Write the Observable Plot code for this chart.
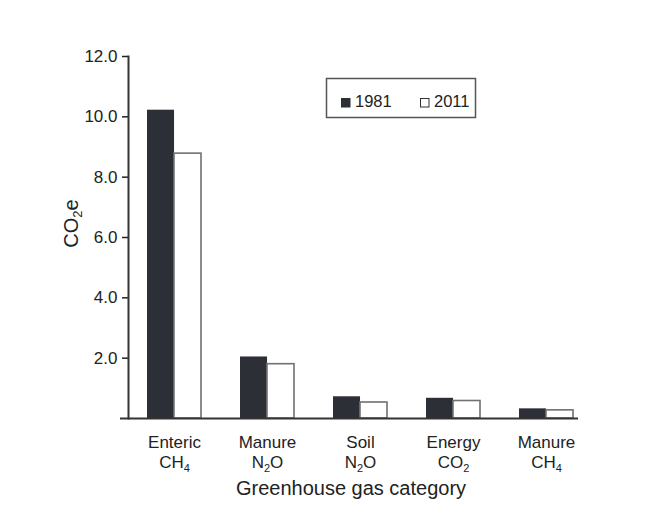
<!DOCTYPE html>
<html><head><meta charset="utf-8">
<script src="https://cdn.jsdelivr.net/npm/d3@7"></script>
<script src="https://cdn.jsdelivr.net/npm/@observablehq/plot@0.6"></script>
<style>
body{margin:0;background:#fff;}
#wrap{position:relative;width:659px;height:519px;font-family:"Liberation Sans",Arial,sans-serif;}
#legend{position:absolute;left:0;top:0;}
</style></head><body>
<div id="wrap"><div id="chart"></div>
<svg id="legend" width="659" height="140"></svg>
</div>
<script>
const categories = ["Enteric\nCH4", "Manure\nN2O", "Soil\nN2O", "Energy\nCO2", "Manure\nCH4"];
const years = ["1981", "2011"];
const values1981 = [10.22, 2.04, 0.72, 0.67, 0.32];
const values2011 = [8.78, 1.80, 0.53, 0.58, 0.27];
const yTicks = [2, 4, 6, 8, 10, 12];
const xTitle = "Greenhouse gas category";
const yTitle = "CO2e";

const dark = "#2c2f36";
const ink = "#222";
const font = '"Liberation Sans", Arial, sans-serif';
const rows = categories.map((c, i) => ({category: c, v1981: values1981[i], v2011: values2011[i]}));

const pad = 0.42;
const xRange = [147, 573];
const bw = (xRange[1] - xRange[0]) / (categories.length - pad) * (1 - pad);

const chart = Plot.plot({
  width: 659, height: 519,
  marginLeft: 128, marginRight: 81, marginTop: 56, marginBottom: 101,
  style: {fontFamily: font, fontSize: "17px", color: ink, background: "#fff"},
  x: {domain: categories, range: xRange, paddingInner: pad, paddingOuter: 0, label: null},
  y: {domain: [0, 12], label: null},
  marks: [
    Plot.barY(rows, {x: "category", y: "v1981", fill: dark, insetRight: bw / 2}),
    Plot.barY(rows, {x: "category", y: "v2011", fill: "#fff", stroke: "#707070", strokeWidth: 1.6, insetLeft: bw / 2}),
    Plot.axisY(yTicks, {tickFormat: d3.format(".1f"), tickSize: 6, tickPadding: 5, stroke: ink, strokeWidth: 1.5, fontSize: 17, fill: ink, label: null}),
    Plot.axisX({tickSize: 0, tickPadding: 15.5, fontSize: 17, fill: ink, lineHeight: 1.18, label: null}),
    Plot.frame({anchor: "left", stroke: "#333", strokeWidth: 2}),
    Plot.ruleY([0], {stroke: "#333", strokeWidth: 2.2, insetLeft: -8}),
    Plot.text([xTitle], {frameAnchor: "bottom", text: d => d, textAnchor: "middle", lineAnchor: "middle", dy: 69.6, dx: -2.5, fontSize: 20, fill: ink}),
    Plot.text([yTitle], {frameAnchor: "left", text: d => d, textAnchor: "middle", lineAnchor: "middle", rotate: -90, dx: -57, dy: -14, fontSize: 20, fill: ink})
  ]
});
document.getElementById("chart").appendChild(chart);

// chemical-formula subscripts: a digit following a letter is drawn lowered and smaller
function subscriptify(el, size) {
  const parts = el.textContent.split(/(?<=[A-Za-z])(\d)/);
  if (parts.length < 2) return;
  el.textContent = "";
  parts.forEach((p, i) => {
    if (!p) return;
    const t = document.createElementNS("http://www.w3.org/2000/svg", "tspan");
    t.textContent = p;
    if (i % 2 === 1) {
      t.setAttribute("font-size", size);
      t.setAttribute("baseline-shift", "-4");
    }
    el.appendChild(t);
  });
}
d3.select(chart).selectAll("text").each(function () {
  const fs = parseFloat(getComputedStyle(this).fontSize) || 17;
  const spans = this.querySelectorAll("tspan");
  if (spans.length) spans.forEach(s => subscriptify(s, Math.round(fs * 0.65)));
  else subscriptify(this, Math.round(fs * 0.65));
});

// legend
const lg = d3.select("#legend");
lg.append("rect").attr("x", 326.5).attr("y", 78.5).attr("width", 149).attr("height", 39)
  .attr("fill", "none").attr("stroke", "#555").attr("stroke-width", 1.5);
const items = [{year: years[0], x: 341, fill: dark, stroke: dark}, {year: years[1], x: 420, fill: "#fff", stroke: "#333"}];
items.forEach(it => {
  lg.append("rect").attr("x", it.x + 0.5).attr("y", 98.5).attr("width", 8.5).attr("height", 8.5)
    .attr("fill", it.fill).attr("stroke", it.stroke).attr("stroke-width", 1);
  lg.append("text").attr("x", it.x + 14).attr("y", 107.3).attr("font-size", 16.5)
    .attr("font-family", font).attr("fill", ink).text(it.year);
});
</script>
</body></html>
